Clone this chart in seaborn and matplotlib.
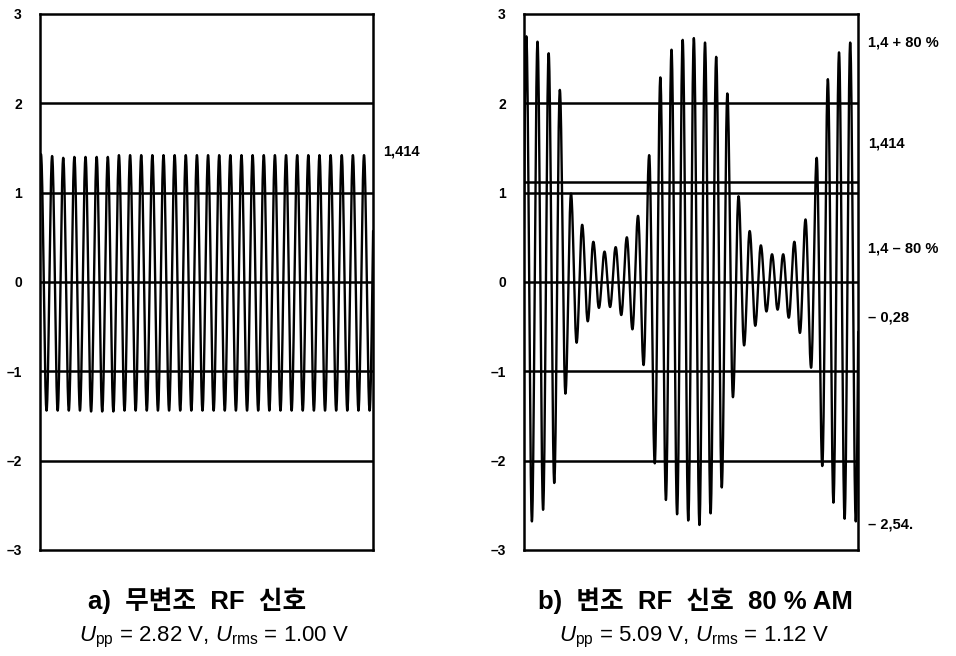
import numpy as np
import pandas as pd
import seaborn as sns
import matplotlib.pyplot as plt

# peak / trough values of each carrier cycle
left_peaks = [1.43, 1.41, 1.39, 1.40, 1.40, 1.40, 1.40, 1.42, 1.42, 1.42,
              1.42, 1.42, 1.42, 1.42, 1.42, 1.42, 1.42, 1.42, 1.42, 1.42,
              1.42, 1.42, 1.42, 1.42, 1.42, 1.42, 1.42, 1.42, 1.42, 1.42]
left_troughs = [-1.44, -1.44, -1.44, -1.44, -1.45, -1.45, -1.45, -1.44, -1.44, -1.44,
                -1.44, -1.44, -1.44, -1.44, -1.44, -1.44, -1.44, -1.44, -1.44, -1.44,
                -1.44, -1.44, -1.44, -1.44, -1.44, -1.44, -1.44, -1.44, -1.44, -1.44]

right_peaks = [2.75, 2.69, 2.56, 2.15, 0.99, 0.64, 0.45, 0.34, 0.39, 0.50,
               0.74, 1.42, 2.29, 2.60, 2.71, 2.73, 2.68, 2.52, 2.11, 0.96,
               0.57, 0.41, 0.31, 0.31, 0.45, 0.70, 1.39, 2.27, 2.57, 2.68]
right_troughs = [-2.68, -2.55, -2.25, -1.25, -0.68, -0.44, -0.29, -0.28, -0.37, -0.53,
                 -0.93, -2.03, -2.44, -2.60, -2.67, -2.72, -2.59, -2.30, -1.29, -0.71,
                 -0.49, -0.33, -0.31, -0.40, -0.57, -0.96, -2.06, -2.47, -2.65, -2.68]

urms_b = 1.12
ytick_vals = [-3, -2, -1, 0, 1, 2, 3]
ytick_text = ["\u20133", "\u20132", "\u20131", "0", "1", "2", "3"]

left_marks = ["1,414"]
right_marks = ["1,4 + 80 %", "1,414", "1,4 \u2013 80 %", "\u2013 0,28", "\u2013 2,54."]

captions_a = ["a)  무변조  RF  신호",
              r"$\mathit{U}_{\mathrm{pp}}$ = 2.82 V, $\mathit{U}_{\mathrm{rms}}$ = 1.00 V"]
captions_b = ["b)  변조  RF  신호  80 % AM",
              r"$\mathit{U}_{\mathrm{pp}}$ = 5.09 V, $\mathit{U}_{\mathrm{rms}}$ = 1.12 V"]


def trace(peaks, troughs, n=30):
    # peaks sit at whole cycles, troughs half way; join them with half cosines
    ext = [troughs[0]]
    for p, t in zip(peaks, troughs):
        ext += [p, t]
    ext.append(peaks[-1])
    ext_x = np.arange(len(ext)) * 0.5 - 0.5
    xs, ys = [], []
    for i in range(len(ext) - 1):
        s = np.linspace(0, 1, n, endpoint=False)
        a, b = ext[i], ext[i + 1]
        xs.append(ext_x[i] + 0.5 * s)
        ys.append((a + b) / 2 + (a - b) / 2 * np.cos(np.pi * s))
    return pd.DataFrame({"t": np.concatenate(xs), "u": np.concatenate(ys)})


sns.set_style("white")
plt.rcParams["font.family"] = ["Liberation Sans", "Noto Sans CJK KR", "DejaVu Sans"]
plt.rcParams["text.color"] = "black"
plt.rcParams["ytick.color"] = "black"
plt.rcParams["mathtext.fontset"] = "custom"
plt.rcParams["mathtext.rm"] = "Liberation Sans"
plt.rcParams["mathtext.it"] = "Liberation Sans:italic"

fig = plt.figure(figsize=(9.56, 6.56), dpi=100)
ax_a = fig.add_axes([0.0418, 0.1616, 0.3483, 0.8171])
ax_b = fig.add_axes([0.5481, 0.1616, 0.3494, 0.8171])

panels = [
    (ax_a, trace(left_peaks, left_troughs), (-0.09, 29.8)),
    (ax_b, trace(right_peaks, right_troughs), (-0.21, 29.7)),
]
for ax, df, xl in panels:
    sns.lineplot(data=df, x="t", y="u", ax=ax, color="black", lw=1.7,
                 estimator=None, sort=False)
    for g in [-2, -1, 0, 1, 2]:
        ax.axhline(g, color="black", lw=1.8, zorder=3)
    ax.set_xlim(*xl)
    ax.set_ylim(-3, 3)
    ax.set_xticks([])
    ax.set_yticks(ytick_vals)
    ax.set_yticklabels(ytick_text, fontweight="bold", fontsize=10)
    ax.tick_params(axis="y", length=0, pad=13)
    ax.set_xlabel("")
    ax.set_ylabel("")
    for sp in ax.spines.values():
        sp.set_visible(True)
        sp.set_color("black")
        sp.set_linewidth(1.8)

ax_b.axhline(urms_b, color="black", lw=1.8, zorder=3)

tf = dict(fontweight="bold", fontsize=10.5, va="center", ha="left", clip_on=False)
ax_a.text(1.03, 1.46, left_marks[0], transform=ax_a.get_yaxis_transform(), **tf)
for lab, yy in zip(right_marks, [2.68, 1.55, 0.38, -0.40, -2.72]):
    ax_b.text(1.03, yy, lab, transform=ax_b.get_yaxis_transform(), **tf)

fig.text(0.206, 0.085, captions_a[0], ha="center", va="center", fontsize=18.5, fontweight="bold")
fig.text(0.224, 0.029, captions_a[1], ha="center", va="center", fontsize=16)
fig.text(0.727, 0.085, captions_b[0], ha="center", va="center", fontsize=18.5, fontweight="bold")
fig.text(0.726, 0.029, captions_b[1], ha="center", va="center", fontsize=16)

fig.savefig("out.png", dpi=100)
